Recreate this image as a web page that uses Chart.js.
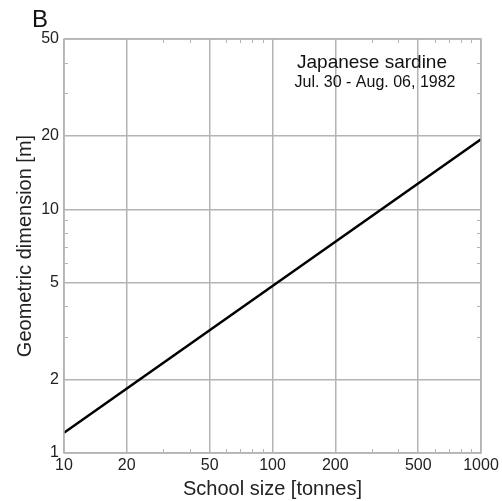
<!DOCTYPE html>
<html>
<head>
<meta charset="utf-8">
<script src="https://cdn.jsdelivr.net/npm/chart.js@4"></script>
<style>
  html, body { margin: 0; padding: 0; background: #fff; }
  #wrap { width: 502px; height: 501px; }
</style>
</head>
<body>
<div id="wrap"><canvas id="chart"></canvas></div>
<script>
// School size (tonnes) vs geometric dimension (m), log-log
const schoolSize = [10, 1000];
const dimension = [1.21, 19.4];

const xTicks = [10, 20, 50, 100, 200, 500, 1000];
const yTicks = [1, 2, 5, 10, 20, 50];
const xMinor = [30, 40, 60, 70, 80, 90, 300, 400, 600, 700, 800, 900];
const yMinor = [3, 4, 6, 7, 8, 9, 30, 40];

const panelLabel = 'B';
const noteLines = ['Japanese sardine', 'Jul. 30 - Aug. 06, 1982'];

const gridGray = '#b4b4b4';
const fontFamily = '"Liberation Sans", Arial, Helvetica, sans-serif';

// frame, minor ticks and text labels
const extras = {
    id: 'extras',
    afterDatasetsDraw(chart) {
        const ctx = chart.ctx;
        const a = chart.chartArea;
        const xs = chart.scales.x, ys = chart.scales.y;
        ctx.save();
        ctx.strokeStyle = gridGray;
        ctx.lineWidth = 1;
        ctx.beginPath();
        xMinor.forEach(v => {
            const px = Math.round(xs.getPixelForValue(v)) + 0.5;
            ctx.moveTo(px, a.top); ctx.lineTo(px, a.top + 4);
            ctx.moveTo(px, a.bottom); ctx.lineTo(px, a.bottom - 4);
        });
        yMinor.forEach(v => {
            const py = Math.round(ys.getPixelForValue(v)) + 0.5;
            ctx.moveTo(a.left, py); ctx.lineTo(a.left + 4, py);
            ctx.moveTo(a.right, py); ctx.lineTo(a.right - 4, py);
        });
        ctx.stroke();
        ctx.lineWidth = 1.5;
        ctx.strokeRect(a.left, a.top, a.right - a.left, a.bottom - a.top);

        ctx.fillStyle = '#111';
        ctx.textAlign = 'left';
        ctx.textBaseline = 'alphabetic';
        ctx.font = '24px ' + fontFamily;
        ctx.fillText(panelLabel, 32, 27);

        ctx.textAlign = 'center';
        ctx.font = '19px ' + fontFamily;
        ctx.fillText(noteLines[0], 372, 68);
        ctx.font = '16px ' + fontFamily;
        ctx.fillText(noteLines[1], 375, 87);
        ctx.restore();
    }
};

new Chart(document.getElementById('chart'), {
    type: 'line',
    data: {
        datasets: [{
            data: schoolSize.map((x, i) => ({ x: x, y: dimension[i] })),
            borderColor: '#000',
            borderWidth: 2.5,
            pointRadius: 0,
            fill: false
        }]
    },
    options: {
        responsive: true,
        maintainAspectRatio: false,
        animation: false,
        layout: { padding: { top: 39, right: 21, left: 0, bottom: 0 } },
        plugins: {
            legend: { display: false },
            tooltip: { enabled: false }
        },
        scales: {
            x: {
                type: 'logarithmic',
                min: 10,
                max: 1000,
                afterBuildTicks: scale => { scale.ticks = xTicks.map(v => ({ value: v })); },
                afterFit: scale => { scale.height = 48; },
                ticks: {
                    autoSkip: false,
                    maxRotation: 0,
                    padding: 3,
                    color: '#222',
                    font: { family: fontFamily, size: 16 },
                    callback: v => String(v)
                },
                grid: { color: gridGray, lineWidth: 1.5, drawTicks: false },
                border: { display: false },
                title: {
                    display: true,
                    text: 'School size [tonnes]',
                    color: '#222',
                    font: { family: fontFamily, size: 20 },
                    padding: { top: 0, bottom: 0 }
                }
            },
            y: {
                type: 'logarithmic',
                min: 1,
                max: 50,
                afterBuildTicks: scale => { scale.ticks = yTicks.map(v => ({ value: v })); },
                afterFit: scale => { scale.width = 64; },
                ticks: {
                    autoSkip: false,
                    padding: 5,
                    color: '#222',
                    font: { family: fontFamily, size: 16 },
                    callback: v => String(v)
                },
                grid: { color: gridGray, lineWidth: 1.5, drawTicks: false },
                border: { display: false },
                title: {
                    display: true,
                    text: 'Geometric dimension [m]',
                    color: '#222',
                    font: { family: fontFamily, size: 20 },
                    padding: { top: 13, bottom: 0 }
                }
            }
        }
    },
    plugins: [extras]
});
</script>
</body>
</html>
